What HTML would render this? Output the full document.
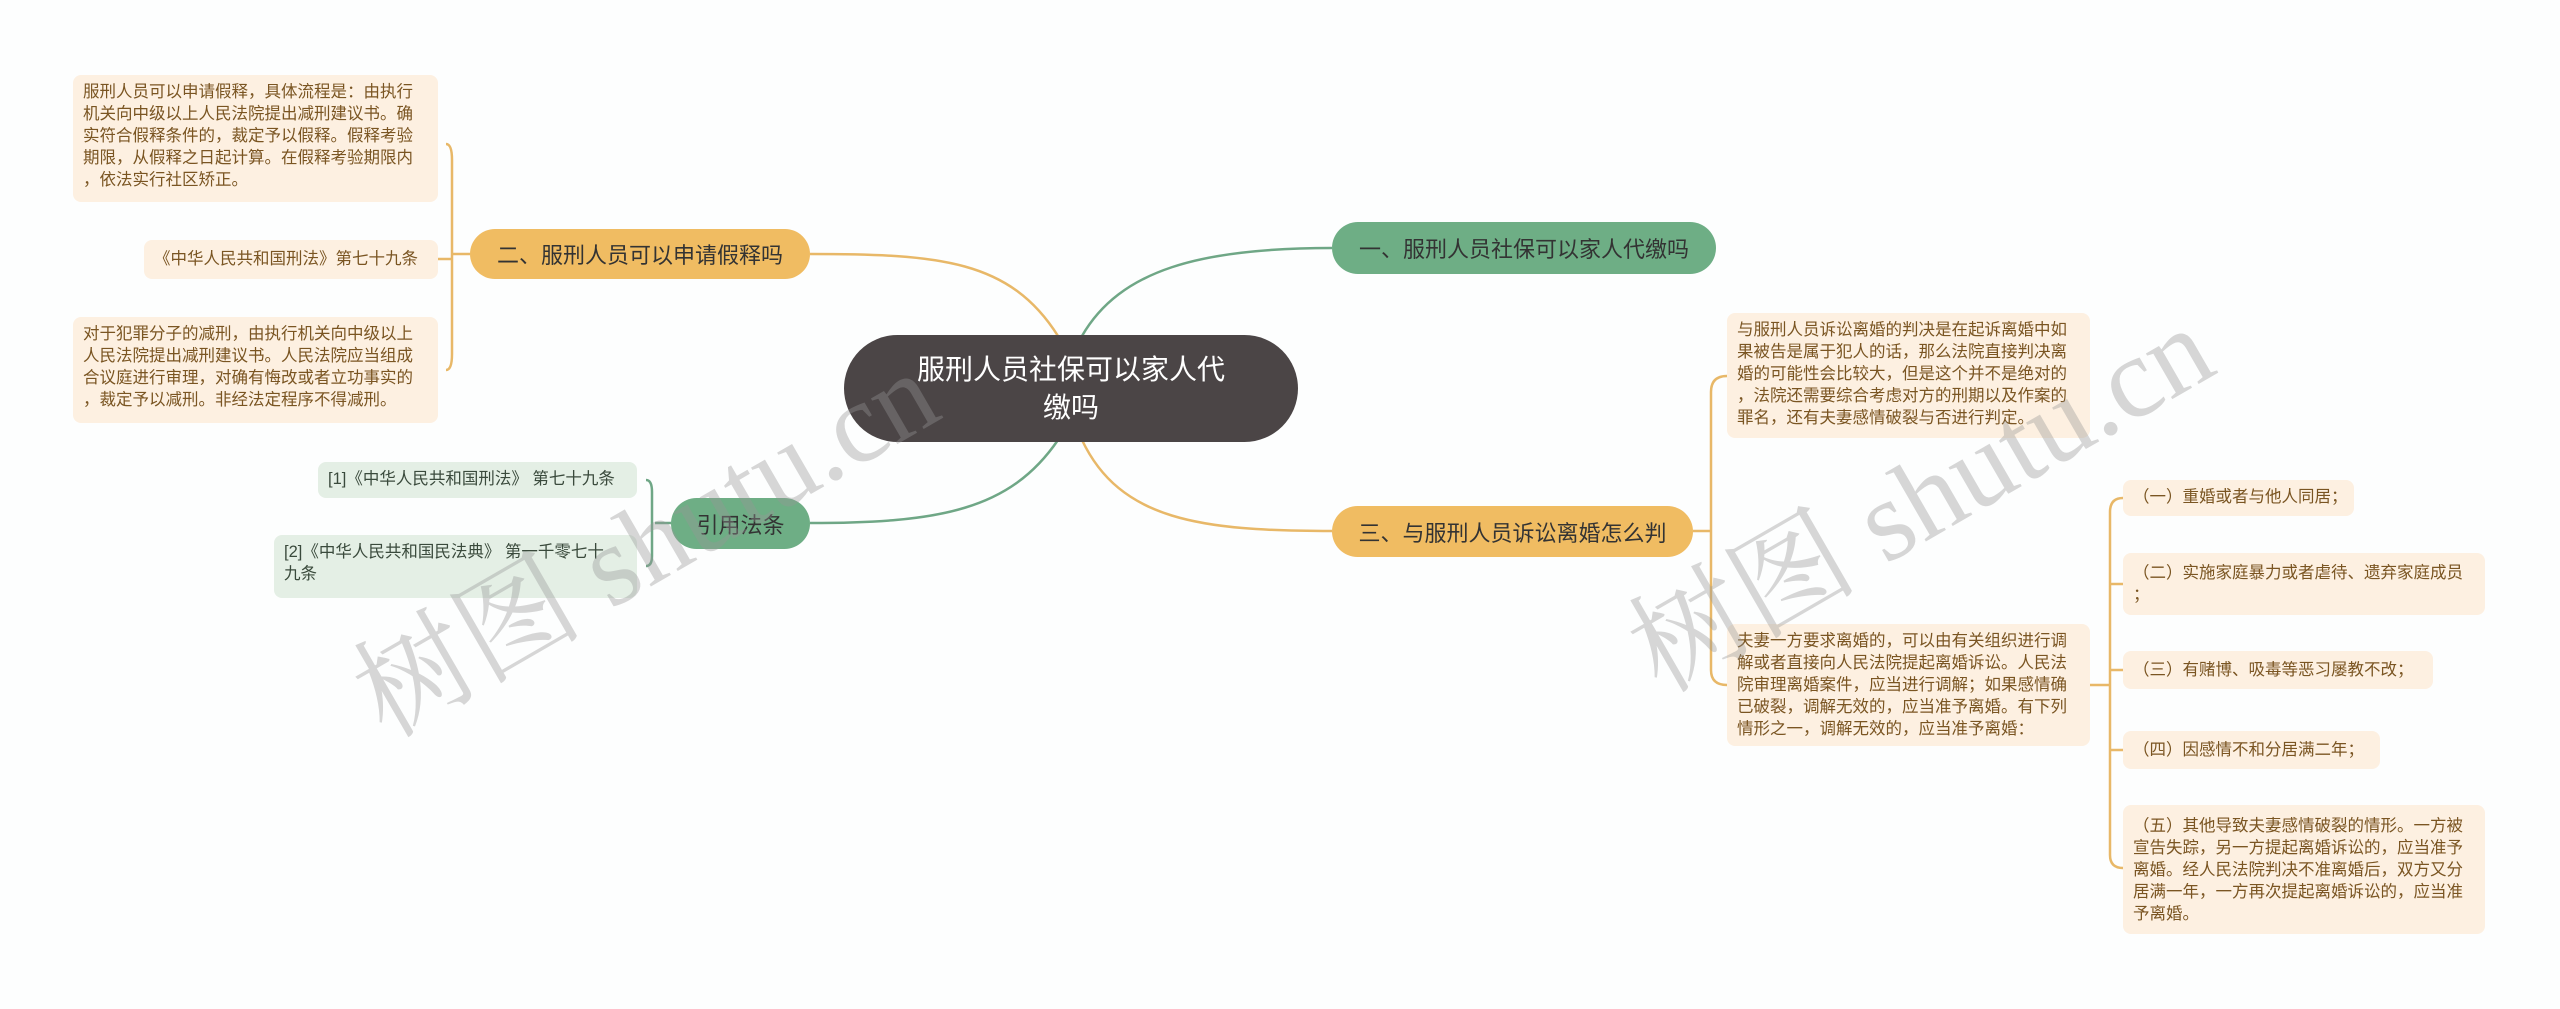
<!DOCTYPE html>
<html><head><meta charset="utf-8"><style>
html,body{margin:0;padding:0;}
body{width:2560px;height:1009px;background:#fdfefe;position:relative;overflow:hidden;font-family:"Liberation Sans","Noto Sans CJK SC",sans-serif;}
.n{position:absolute;box-sizing:border-box;white-space:nowrap;}
.leaf{background:#fdf0e1;border-radius:8px;color:#7a5522;font-size:16.5px;line-height:22px;padding:6px 10px;}
.gl{background:#e4efe5;border-radius:8px;color:#3a4a3c;font-size:16.5px;line-height:22px;padding:6px 10px;}
.br{border-radius:26px;font-size:22px;display:flex;align-items:center;justify-content:center;color:#333;}
.or{background:#f0bc62;}
.gr{background:#6eae85;}
.wm{position:absolute;font-family:"Liberation Serif","Noto Serif CJK SC",serif;font-size:115px;color:rgba(150,150,150,0.38);transform:rotate(-30deg);white-space:nowrap;transform-origin:left top;}
</style></head><body>
<svg width="2560" height="1009" style="position:absolute;left:0;top:0" fill="none" stroke-width="2.5">
<path d="M1058 336 C1010 260 940 254 810 254" stroke="#e8b868"/>
<path d="M1082 336 C1120 270 1200 248 1332 248" stroke="#6fa786"/>
<path d="M1058 440 C1010 510 940 523 810 523" stroke="#6fa786"/>
<path d="M1082 440 C1120 520 1200 531 1332 531" stroke="#e8b868"/>
<path d="M470 254 L452 254 M446 144 Q452 144 452 160 L452 354 Q452 370 446 370 M452 259 L438 259" stroke="#e8b868"/>
<path d="M671 523 L655 523 M646 480 Q652 480 652 492 L652 556 Q652 566 646 566" stroke="#6fa786"/>
<path d="M1693 531 L1711 531 M1727 376 Q1711 376 1711 392 L1711 670 Q1711 685 1727 685" stroke="#e8b868"/>
<path d="M2090 685 L2110 685 M2123 498 Q2110 498 2110 512 L2110 855 Q2110 868 2123 868 M2110 584 Q2110 584 2123 584 M2110 670 L2123 670 M2110 750 L2123 750" stroke="#e8b868"/>
</svg>
<div class="n leaf" style="left:73px;top:75px;width:365px;height:127px;">服刑人员可以申请假释，具体流程是：由执行<br>机关向中级以上人民法院提出减刑建议书。确<br>实符合假释条件的，裁定予以假释。假释考验<br>期限，从假释之日起计算。在假释考验期限内<br>，依法实行社区矫正。</div>
<div class="n leaf" style="left:144px;top:240px;width:294px;height:39px;padding-top:8px;">《中华人民共和国刑法》第七十九条</div>
<div class="n leaf" style="left:73px;top:317px;width:365px;height:106px;">对于犯罪分子的减刑，由执行机关向中级以上<br>人民法院提出减刑建议书。人民法院应当组成<br>合议庭进行审理，对确有悔改或者立功事实的<br>，裁定予以减刑。非经法定程序不得减刑。</div>
<div class="n gl" style="left:318px;top:462px;width:319px;height:36px;">[1]《中华人民共和国刑法》 第七十九条</div>
<div class="n gl" style="left:274px;top:535px;width:363px;height:63px;">[2]《中华人民共和国民法典》 第一千零七十<br>九条</div>
<div class="n br or" style="left:470px;top:229px;width:340px;height:50px;">二、服刑人员可以申请假释吗</div>
<div class="n br gr" style="left:671px;top:498px;width:139px;height:51px;">引用法条</div>
<div class="n br gr" style="left:1332px;top:222px;width:384px;height:52px;">一、服刑人员社保可以家人代缴吗</div>
<div class="n br or" style="left:1332px;top:506px;width:361px;height:51px;">三、与服刑人员诉讼离婚怎么判</div>
<div class="n" style="left:844px;top:335px;width:454px;height:107px;background:#4b4546;border-radius:54px;color:#fff;font-size:28px;line-height:38px;display:flex;align-items:center;justify-content:center;text-align:center;">服刑人员社保可以家人代<br>缴吗</div>
<div class="n leaf" style="left:1727px;top:313px;width:363px;height:125px;">与服刑人员诉讼离婚的判决是在起诉离婚中如<br>果被告是属于犯人的话，那么法院直接判决离<br>婚的可能性会比较大，但是这个并不是绝对的<br>，法院还需要综合考虑对方的刑期以及作案的<br>罪名，还有夫妻感情破裂与否进行判定。</div>
<div class="n leaf" style="left:1727px;top:624px;width:363px;height:122px;">夫妻一方要求离婚的，可以由有关组织进行调<br>解或者直接向人民法院提起离婚诉讼。人民法<br>院审理离婚案件，应当进行调解；如果感情确<br>已破裂，调解无效的，应当准予离婚。有下列<br>情形之一，调解无效的，应当准予离婚：</div>
<div class="n leaf" style="left:2123px;top:480px;width:231px;height:36px;">（一）重婚或者与他人同居；</div>
<div class="n leaf" style="left:2123px;top:553px;width:362px;height:62px;padding-top:9px;">（二）实施家庭暴力或者虐待、遗弃家庭成员<br>；</div>
<div class="n leaf" style="left:2123px;top:651px;width:310px;height:38px;padding-top:8px;">（三）有赌博、吸毒等恶习屡教不改；</div>
<div class="n leaf" style="left:2123px;top:731px;width:257px;height:38px;padding-top:8px;">（四）因感情不和分居满二年；</div>
<div class="n leaf" style="left:2123px;top:805px;width:362px;height:129px;padding-top:10px;">（五）其他导致夫妻感情破裂的情形。一方被<br>宣告失踪，另一方提起离婚诉讼的，应当准予<br>离婚。经人民法院判决不准离婚后，双方又分<br>居满一年，一方再次提起离婚诉讼的，应当准<br>予离婚。</div>
<div class="wm" style="left:320px;top:625px;">树图 shutu.cn</div>
<div class="wm" style="left:1595px;top:580px;">树图 shutu.cn</div>
</body></html>
